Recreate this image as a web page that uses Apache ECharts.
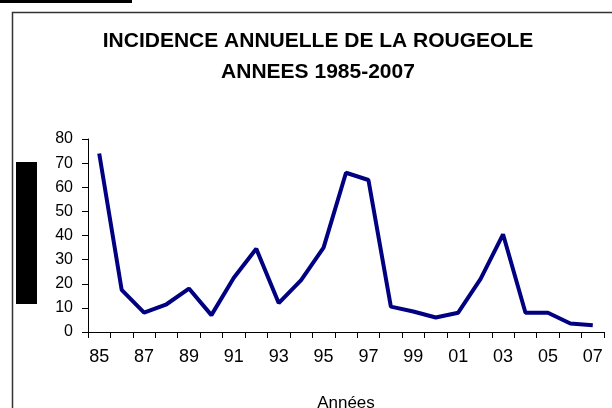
<!DOCTYPE html>
<html>
<head>
<meta charset="utf-8">
<script src="https://cdn.jsdelivr.net/npm/echarts@6/dist/echarts.min.js"></script>
<style>
  html, body { margin: 0; padding: 0; background: #fff; }
  #chart { width: 612px; height: 408px; }
</style>
</head>
<body>
<div id="chart"></div>
<script>
// annees 1985-2007 (libelles sur 2 chiffres)
var years = ['85', '86', '87', '88', '89', '90', '91', '92', '93', '94', '95', '96',
  '97', '98', '99', '00', '01', '02', '03', '04', '05', '06', '07'];
// incidence annuelle
var incidence = [74, 17.5, 8, 11.5, 18, 7, 22.5, 34.5, 12, 21.5, 35, 66,
  63, 10.5, 8.5, 6, 8, 22, 40.5, 8, 8, 3.5, 2.8];
var yTicks = { min: 0, max: 80, interval: 10 };

var chart = echarts.init(document.getElementById('chart'));

var option = {
  backgroundColor: '#fff',
  animation: false,
  title: {
    text: 'INCIDENCE ANNUELLE DE LA ROUGEOLE\nANNEES 1985-2007',
    left: 313,
    textAlign: 'center',
    top: 21,
    textStyle: {
      fontFamily: 'Liberation Sans, Arial, sans-serif',
      fontSize: 21,
      fontWeight: 'bold',
      color: '#000',
      lineHeight: 31
    }
  },
  grid: {
    left: 88,
    right: 8,
    top: 139,
    bottom: 76,
    outerBoundsMode: 'none'
  },
  xAxis: {
    type: 'category',
    data: years,
    boundaryGap: true,
    name: 'Années',
    nameLocation: 'middle',
    nameGap: 63,
    nameTextStyle: {
      fontFamily: 'Liberation Sans, Arial, sans-serif',
      fontSize: 17,
      color: '#000'
    },
    axisLine: { lineStyle: { color: '#000', width: 1 } },
    axisTick: { show: true, interval: 0, length: 6, lineStyle: { color: '#000' } },
    axisLabel: {
      interval: 1,
      margin: 16,
      fontFamily: 'Liberation Sans, Arial, sans-serif',
      fontSize: 18,
      color: '#000'
    },
    splitLine: { show: false }
  },
  yAxis: {
    type: 'value',
    min: yTicks.min,
    max: yTicks.max,
    interval: yTicks.interval,
    axisLine: { show: true, lineStyle: { color: '#000', width: 1 } },
    axisTick: { show: true, length: 6, lineStyle: { color: '#000' } },
    axisLabel: {
      margin: 15,
      fontFamily: 'Liberation Sans, Arial, sans-serif',
      fontSize: 16,
      color: '#000'
    },
    splitLine: { show: false }
  },
  series: [
    {
      name: 'Incidence',
      type: 'line',
      data: incidence,
      symbol: 'none',
      lineStyle: { color: '#000080', width: 4 },
      itemStyle: { color: '#000080' }
    }
  ],
  graphic: [
    // cadre du graphique
    {
      type: 'rect',
      shape: { x: 12.5, y: 12.5, width: 640, height: 440 },
      style: { fill: 'none', stroke: '#333', lineWidth: 1.5 },
      silent: true
    },
    // bandeau noir en haut a gauche
    {
      type: 'rect',
      shape: { x: 0, y: 0, width: 132, height: 3 },
      style: { fill: '#000' },
      silent: true
    },
    // titre de l'axe masque
    {
      type: 'rect',
      shape: { x: 16, y: 162, width: 21, height: 142 },
      style: { fill: '#000' },
      silent: true
    }
  ]
};

chart.setOption(option);
</script>
</body>
</html>
